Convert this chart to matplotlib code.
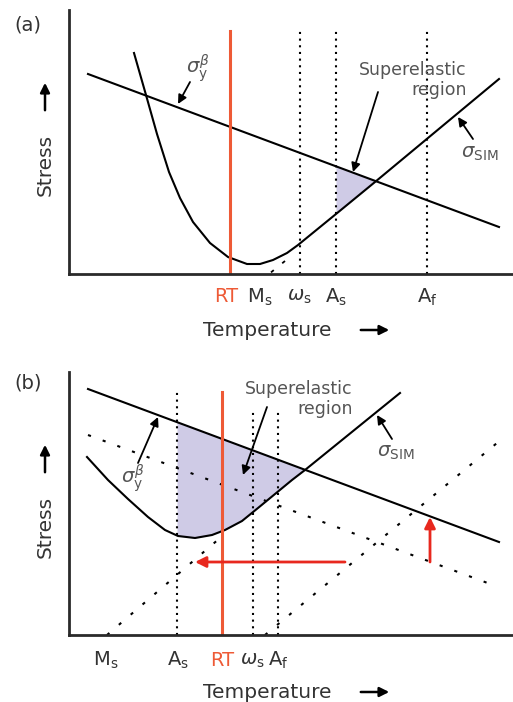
import numpy as np
import matplotlib
matplotlib.use('Agg')
import matplotlib.pyplot as plt

# ---- panel (a) data (x: temperature, y: stress, arbitrary units) ----
a_sig_y_x = [88, 499]
a_sig_y_y = [200, 47]
a_sim_x = [134, 146, 157, 163, 169, 180, 193, 210, 228, 247, 260, 273, 287, 298, 336, 375, 499]
a_sim_y = [221, 179, 140, 121, 102, 76, 52, 31, 17, 10, 10, 14, 21, 29, 60, 92, 195]
a_ext_x = [285, 269]          # extension of sigma_SIM down to Ms
a_ext_y = [13, 0]
a_rt = 230
a_marks = [300, 336, 427]     # omega_s, A_s, A_f
a_labels = ['RT', r'M$_\mathregular{s}$', r'$\omega_\mathregular{s}$',
            r'A$_\mathregular{s}$', r'A$_\mathregular{f}$']
a_label_x = [226, 260, 299, 336, 427]
a_shade = [336, 375]

# ---- panel (b) data ----
b_sig_y_x = [88, 499]
b_sig_y_y = [246, 93]
b_sig_y2_x = [88, 493]        # shifted sigma_y (dotted)
b_sig_y2_y = [200, 50]
b_sim_x = [87, 108, 128, 148, 165, 178, 195, 212, 225, 242, 258, 275, 292, 305, 400]
b_sim_y = [178, 155, 136, 118, 105, 99, 97, 100, 105, 114, 127, 141, 155, 165, 242]
b_ext1_x = [107, 220]         # sigma_SIM extended to Ms
b_ext1_y = [0, 97]
b_ext2_x = [265, 497]         # shifted sigma_SIM
b_ext2_y = [0, 192]
b_rt = 222
b_marks = [177, 253, 278]     # A_s, omega_s, A_f
b_labels = [r'M$_\mathregular{s}$', r'A$_\mathregular{s}$', 'RT',
            r'$\omega_\mathregular{s}$', r'A$_\mathregular{f}$']
b_label_x = [106, 178, 222, 252, 278]
b_shade = [177, 305]

red = '#ee5a36'
fill_c = '#cfcbe6'
grey = '#555555'

fig = plt.figure(figsize=(5.13, 7.02), dpi=100)
W, H = 513, 702
axa = fig.add_axes([69 / W, (H - 274) / H, 1 - 69 / W, 264 / H])
axb = fig.add_axes([69 / W, (H - 635) / H, 1 - 69 / W, 263 / H])


def setup(ax, top):
    ax.set_xlim(69, 513)
    ax.set_ylim(0, top)
    for s in ['top', 'right']:
        ax.spines[s].set_visible(False)
    for s in ['left', 'bottom']:
        ax.spines[s].set_linewidth(2)
        ax.spines[s].set_color('#2a2a2a')
    ax.set_xticks([])
    ax.set_yticks([])


def shade(ax, cx, cy, lx, ly, lim):
    xs = np.linspace(lim[0], lim[1], 80)
    ax.fill_between(xs, np.interp(xs, cx, cy), np.interp(xs, lx, ly),
                    color=fill_c, lw=0, zorder=1)


def axis_texts(ax, y_lab, y_temp):
    ax.text(267, y_temp, 'Temperature', ha='center', va='center', fontsize=14.5,
            color='#333333', clip_on=False)
    ax.annotate('', xy=(392, y_temp), xytext=(358, y_temp), annotation_clip=False,
                arrowprops=dict(arrowstyle='-|>', color='black', lw=1.8, mutation_scale=14))
    ax.text(45, y_lab, 'Stress', ha='center', va='center', rotation=90, fontsize=14.5,
            color='#333333', clip_on=False)
    ax.annotate('', xy=(45, y_lab + 85), xytext=(45, y_lab + 52), annotation_clip=False,
                arrowprops=dict(arrowstyle='-|>', color='black', lw=1.8, mutation_scale=14))


def arrow(ax, tip, tail):
    ax.annotate('', xy=tip, xytext=tail,
                arrowprops=dict(arrowstyle='-|>', color='black', lw=1.3,
                                mutation_scale=13, shrinkA=0, shrinkB=0))


# ---------------- (a) ----------------
ax = axa
setup(ax, 264)
shade(ax, a_sim_x, a_sim_y, a_sig_y_x, a_sig_y_y, a_shade)
ax.plot(a_sig_y_x, a_sig_y_y, color='black', lw=1.5)
ax.plot(a_sim_x, a_sim_y, color='black', lw=1.5)
ax.plot(a_ext_x, a_ext_y, color='black', lw=1.3, ls=(0, (2, 6)))
ax.plot([a_rt, a_rt], [0, 243], color=red, lw=2.2)
for x in a_marks:
    ax.plot([x, x], [0, 243], color='black', lw=1.5, ls=(0, (1, 2.2)))
for lab, x in zip(a_labels, a_label_x):
    ax.text(x, -23, lab, ha='center', va='center', fontsize=14, clip_on=False,
            color=red if lab == 'RT' else '#333333')
axis_texts(ax, 109, -56)
ax.text(28, 249, '(a)', ha='center', va='center', fontsize=14, color='#333333', clip_on=False)
ax.text(198, 206, r'$\sigma_\mathregular{y}^\beta$', ha='center', va='center', fontsize=14, color=grey)
arrow(ax, (178, 170), (190, 192))
ax.text(467, 194, 'Superelastic\nregion', ha='right', va='center', fontsize=12.5,
        color=grey, linespacing=1.15)
arrow(ax, (353, 102), (378, 182))
ax.text(480, 121, r'$\sigma_\mathregular{SIM}$', ha='center', va='center', fontsize=14, color=grey)
arrow(ax, (458, 157), (473, 135))

# ---------------- (b) ----------------
ax = axb
setup(ax, 263)
shade(ax, b_sim_x, b_sim_y, b_sig_y_x, b_sig_y_y, b_shade)
ax.plot(b_sig_y_x, b_sig_y_y, color='black', lw=1.5)
ax.plot(b_sig_y2_x, b_sig_y2_y, color='black', lw=1.5, ls=(0, (1.5, 6)))
ax.plot(b_sim_x, b_sim_y, color='black', lw=1.5)
ax.plot(b_ext1_x, b_ext1_y, color='black', lw=1.5, ls=(0, (1.5, 6)))
ax.plot(b_ext2_x, b_ext2_y, color='black', lw=1.5, ls=(0, (1.5, 6)))
ax.plot([b_rt, b_rt], [0, 243], color=red, lw=2.2)
ax.plot([b_marks[0]] * 2, [0, 243], color='black', lw=1.5, ls=(0, (1, 2.2)))
for x in b_marks[1:]:
    ax.plot([x, x], [0, 225], color='black', lw=1.5, ls=(0, (1, 2.2)))
ax.annotate('', xy=(195, 73), xytext=(345, 73),
            arrowprops=dict(arrowstyle='-|>', color='#e8281e', lw=2, mutation_scale=16,
                            shrinkA=0, shrinkB=0))
ax.annotate('', xy=(430, 118), xytext=(430, 73),
            arrowprops=dict(arrowstyle='-|>', color='#e8281e', lw=2, mutation_scale=16,
                            shrinkA=0, shrinkB=0))
for lab, x in zip(b_labels, b_label_x):
    ax.text(x, -25, lab, ha='center', va='center', fontsize=14, clip_on=False,
            color=red if lab == 'RT' else '#333333')
axis_texts(ax, 108, -57)
ax.text(28, 252, '(b)', ha='center', va='center', fontsize=14, color='#333333', clip_on=False)
ax.text(133, 157, r'$\sigma_\mathregular{y}^\beta$', ha='center', va='center', fontsize=14, color=grey)
arrow(ax, (158, 218), (138, 172))
ax.text(353, 236, 'Superelastic\nregion', ha='right', va='center', fontsize=12.5,
        color=grey, linespacing=1.15)
arrow(ax, (243, 160), (267, 228))
ax.text(396, 183, r'$\sigma_\mathregular{SIM}$', ha='center', va='center', fontsize=14, color=grey)
arrow(ax, (377, 220), (392, 196))

fig.savefig('out.png', dpi=100)
